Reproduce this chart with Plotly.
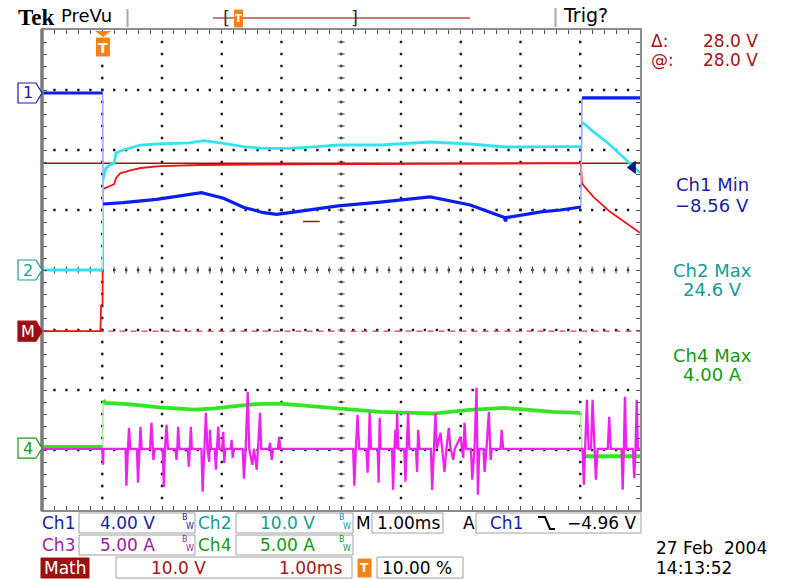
import plotly.graph_objects as go

# ---------------- acquisition settings ----------------
T_START, T_END = -1.0, 9.0          # ms, 1.00 ms/div, trigger at 10 %
N_DIV_Y = 4                         # +-4 divisions vertically

CH1_SCALE, CH1_POS = 4.0, 2.95      # V/div, ground position in div
CH2_SCALE, CH2_POS = 10.0, 0.0
MATH_SCALE, MATH_POS = 10.0, -1.02
CH3_SCALE, CH3_POS = 5.0, -2.98
CH4_SCALE, CH4_POS = 5.0, -2.97

TRIG_LEVEL = -4.96                  # V on Ch1
CURSOR_MATH = 28.0                  # V on Math
CH1_MIN = -8.56
CH2_MAX = 24.6
CH4_MAX = 4.00

# ---------------- waveforms ----------------
ch1_t = [-1.0, 0.005, 0.015, 0.35, 0.91, 1.47, 1.66, 2.03, 2.36, 2.70, 2.92, 3.14,
         3.59, 3.95, 4.65, 5.49, 6.16, 6.73, 6.75, 6.77, 7.34, 7.67, 8.01, 8.03, 8.50, 9.0]
ch1_v = [0.0, 0.0, -7.40, -7.31, -7.09, -6.80, -6.65, -7.02, -7.62, -7.98, -8.09, -7.98,
         -7.75, -7.53, -7.27, -6.93, -7.47, -8.30, -8.56, -8.30, -7.93, -7.80, -7.60, -0.33, -0.33, -0.33]
ch1_edges = [1, 22]                 # sample index where a fast edge starts

ch2_t = [-1.0, 0.005, 0.015, 0.06, 0.13, 0.20, 0.23, 0.35, 0.64, 0.91, 1.47, 1.69, 2.03,
         2.36, 2.70, 3.14, 3.59, 3.95, 4.65, 5.49, 6.16, 6.75, 7.67, 8.02, 8.04, 8.22, 8.50,
         8.78, 9.0]
ch2_v = [0.0, 0.0, 15.0, 17.0, 17.5, 17.8, 19.5, 20.0, 20.83, 21.0, 21.2, 21.55, 21.1,
         20.55, 20.28, 20.28, 20.55, 20.83, 20.83, 21.33, 21.0, 20.5, 20.55, 20.55, 24.6, 23.05,
         20.83, 18.33, 16.2]
ch2_edges = [1, 23]

math_t = [-1.0, -0.03, -0.02, 0.005, 0.015, 0.04, 0.13, 0.20, 0.23, 0.30, 0.47, 0.64, 0.97,
          1.64, 3.31, 4.99, 6.67, 8.01, 8.03, 8.22, 8.50, 8.78, 9.0]
math_v = [0.0, 0.0, 4.3, 4.5, 23.8, 23.8, 24.2, 24.5, 25.5, 26.3, 26.8, 27.2, 27.5,
          27.7, 27.8, 27.9, 28.0, 28.0, 24.6, 22.4, 19.9, 17.95, 16.4]

ch4_t = [-1.0, 0.005, 0.015, 0.05, 0.43, 1.0, 1.55, 1.89, 2.22, 2.56, 2.98, 3.53, 4.09,
         4.65, 5.20, 5.54, 6.10, 6.32, 6.71, 7.10, 7.54, 8.0, 8.035, 9.0]
ch4_a = [0.1, 0.1, 4.00, 3.78, 3.67, 3.39, 3.22, 3.31, 3.5, 3.67, 3.72, 3.5, 3.22,
         3.03, 2.94, 2.89, 3.17, 3.22, 3.36, 3.22, 3.03, 2.94, -0.67, -0.67]
ch4_edges = [1, 21]

ch3_t = [-1.0, 0.0, 0.012, 0.02,
         0.39, 0.404, 0.43, 0.448, 0.47,
         0.58, 0.599, 0.62, 0.639, 0.66,
         0.80, 0.824, 0.84, 0.857, 0.88,
         1.01, 1.030, 1.05, 1.076, 1.10,
         1.225, 1.243, 1.256, 1.270, 1.29,
         1.43, 1.450, 1.465, 1.483, 1.50,
         1.66, 1.680, 1.71, 1.735, 1.76, 1.790, 1.802, 1.82, 1.88, 1.903, 1.92, 1.941, 1.96,
         2.005, 2.025, 2.042, 2.06, 2.15, 2.166, 2.183, 2.20,
         2.35, 2.372, 2.40, 2.435, 2.46, 2.512, 2.54, 2.586, 2.61, 2.641, 2.66,
         2.79, 2.809, 2.837, 2.86, 2.94, 2.960, 2.98,
         4.20, 4.218, 4.245, 4.273, 4.30,
         4.42, 4.441, 4.46, 4.475, 4.50,
         4.61, 4.626, 4.643, 4.66,
         4.85, 4.867, 4.89, 4.906, 4.92, 4.935, 4.955,
         5.055, 5.074, 5.10, 5.119, 5.14,
         5.25, 5.270, 5.287, 5.31,
         5.50, 5.522, 5.55, 5.577, 5.60, 5.661, 5.69, 5.728, 5.76, 5.800, 5.83, 5.874, 5.90,
         5.997, 6.02, 6.042, 6.064, 6.09,
         6.17, 6.193, 6.23, 6.265, 6.287, 6.31, 6.38, 6.399, 6.43, 6.471, 6.500, 6.52,
         6.665, 6.685, 6.71,
         8.04, 8.060, 8.085, 8.111, 8.14, 8.18, 8.206, 8.235, 8.262, 8.29,
         8.46, 8.485, 8.51, 8.69, 8.710, 8.73, 8.748, 8.77, 8.88, 8.904, 8.925, 8.945, 8.965, 9.0]
ch3_a = [0.0, 0.0, -1.33, 0.0,
         0.0, -3.08, 0.0, 1.75, 0.0,
         0.0, -2.83, 0.0, 1.83, 0.0,
         0.0, 2.17, 0.0, -0.92, 0.0,
         0.0, -3.17, 0.0, 2.0, 0.0,
         0.0, -0.92, 0.0, 1.83, 0.0,
         0.0, -1.5, 0.0, 1.83, 0.0,
         0.0, -3.58, 0.0, 3.0, 0.0, -1.08, 1.58, 0.0, 0.0, -1.75, 0.0, 1.83, 0.0,
         0.0, 1.42, -1.17, 0.0, 0.0, 0.75, -0.75, 0.0,
         0.0, -2.5, 0.0, 4.75, 0.0, -1.33, 0.0, -1.75, 0.0, 3.0, 0.0,
         0.0, 0.5, -0.92, 0.0, 0.0, 1.0, 0.0,
         0.0, -3.08, 0.0, 2.83, 0.0,
         0.0, -2.0, 0.0, 3.0, 0.0,
         0.0, -2.83, 2.58, 0.0,
         0.0, -3.42, 0.0, 1.58, 0.0, 3.0, 0.0,
         0.0, -2.75, 0.0, 3.0, 0.0,
         0.0, -1.92, 1.58, 0.0,
         0.0, -3.42, 0.0, 3.0, 0.0, 1.33, 0.0, -1.92, 0.0, 1.75, 0.0, -0.92, 0.0,
         1.0, 0.0, -0.75, 2.17, 0.0,
         0.0, -2.58, 0.0, 5.08, -3.83, 0.0, 0.0, -1.92, 0.0, 3.08, -0.92, 0.0,
         0.0, 1.58, 0.0,
         0.0, -3.0, 0.0, 4.08, 0.0, 0.0, 4.08, 0.0, -2.58, 0.0,
         0.0, 2.67, 0.0, 0.0, -3.42, 0.0, 4.33, 0.0, 0.0, -2.42, 0.0, 4.08, 0.0, 0.0]

# ---------------- colours / fonts ----------------
C_CH1, C_CH2, C_MATH, C_CH3, C_CH4 = "#0a1ef2", "#33e3f0", "#f01414", "#ee22ee", "#33e622"
E_CH1, E_CH2, E_CH4 = "#a4a8ff", "#a8f2f8", "#a8f0a0"          # faint fast edges
T_CH1, T_CH2, T_MATH, T_CH3, T_CH4 = "#1c1ca0", "#149a9a", "#a31515", "#9c1c9c", "#159915"
ORANGE = "#f58216"
FONT = "DejaVu Sans"
W, H = 791, 579


def fx(x):
    return x / W


def fy(y):
    return 1 - y / H


def chan_range(scale, pos):
    return [(-N_DIV_Y - pos) * scale, (N_DIV_Y - pos) * scale]


def split_edges(t, v, edges):
    """Break a record at its fast edges; return (body_t, body_v, edge_t, edge_v)."""
    bt, bv, et, ev = [], [], [], []
    for i, (ti, vi) in enumerate(zip(t, v)):
        bt.append(ti)
        bv.append(vi)
        if i in edges:
            bt.append(None)
            bv.append(None)
            et += [t[i], t[i + 1], None]
            ev += [v[i], v[i + 1], None]
    return bt, bv, et, ev


fig = go.Figure()

# ---------------- graticule ----------------
minor = [round(-4 + 0.2 * k, 3) for k in range(1, 40)]
minor_t = [round(T_START + 0.2 * k, 3) for k in range(1, 50)]
gx, gy = [], []
for tv in [0, 1, 2, 3, 4, 5, 6, 7, 8]:
    gx += [tv] * len(minor)
    gy += minor
for dv in [-3, -2, -1, 0, 1, 2, 3]:
    gx += minor_t
    gy += [dv] * len(minor_t)
fig.add_trace(go.Scatter(x=gx, y=gy, mode="markers", hoverinfo="skip",
                         marker=dict(symbol="square", size=2.4, color="#1a1a1a")))
# centre cross with small ticks
fig.add_trace(go.Scatter(x=[4] * len(minor), y=minor, mode="markers", hoverinfo="skip",
                         marker=dict(symbol="line-ew", size=5, line=dict(width=1, color="#555555"))))
fig.add_trace(go.Scatter(x=minor_t, y=[0] * len(minor_t), mode="markers", hoverinfo="skip",
                         marker=dict(symbol="line-ns", size=5, line=dict(width=1, color="#555555"))))

# ---------------- reference lines ----------------
fig.add_trace(go.Scatter(x=[T_START, T_END], y=[0, 0], yaxis="y2", mode="lines", hoverinfo="skip",
                         line=dict(color="#d04040", width=1.2, dash="6px,5px")))
fig.add_trace(go.Scatter(x=[T_START, T_END], y=[CURSOR_MATH, CURSOR_MATH], yaxis="y2", mode="lines",
                         hoverinfo="skip", line=dict(color="#a01010", width=1.4)))

# ---------------- waveforms (stacked in display order) ----------------
fig.add_trace(go.Scatter(x=math_t, y=math_v, yaxis="y2", mode="lines", name="Math",
                         line=dict(color=C_MATH, width=1.8)))


def add_channel(t, v, edges, axis, color, edge_color, width):
    bt, bv, et, ev = split_edges(t, v, edges)
    fig.add_trace(go.Scatter(x=et, y=ev, yaxis=axis, mode="lines", hoverinfo="skip",
                             line=dict(color=edge_color, width=1.6)))
    fig.add_trace(go.Scatter(x=bt, y=bv, yaxis=axis, mode="lines",
                             line=dict(color=color, width=width)))


add_channel(ch4_t, ch4_a, ch4_edges, "y3", C_CH4, E_CH4, 3.8)
fig.add_trace(go.Scatter(x=ch3_t, y=ch3_a, yaxis="y4", mode="lines", name="Ch3",
                         line=dict(color=C_CH3, width=2.3)))
add_channel(ch2_t, ch2_v, ch2_edges, "y5", C_CH2, E_CH2, 2.8)
add_channel(ch1_t, ch1_v, ch1_edges, "y6", C_CH1, E_CH1, 3.2)
# Ch1 minimum marker and trigger level arrow
fig.add_trace(go.Scatter(x=[3.36, 3.64], y=[CH1_MIN, CH1_MIN], yaxis="y6", mode="lines",
                         hoverinfo="skip", line=dict(color="#b01010", width=1.5)))
fig.add_trace(go.Scatter(x=[8.88], y=[TRIG_LEVEL], yaxis="y6", mode="markers", hoverinfo="skip",
                         marker=dict(symbol="triangle-left", size=12, color="#10107a")))

axis_common = dict(showgrid=False, zeroline=False, showline=True, linecolor="#8c8c8c",
                   linewidth=2, mirror="ticks", ticks="inside", ticklen=4, tickwidth=1,
                   tickcolor="#555555", showticklabels=False, fixedrange=True)
hidden = dict(overlaying="y", visible=False, fixedrange=True)
fig.update_layout(
    width=W, height=H, margin=dict(l=0, r=0, t=0, b=0),
    paper_bgcolor="white", plot_bgcolor="white", showlegend=False,
    xaxis=dict(domain=[fx(42.5), fx(640)], range=[T_START, T_END], tick0=T_START, dtick=0.2,
               **axis_common),
    yaxis=dict(domain=[fy(510), fy(30)], range=[-N_DIV_Y, N_DIV_Y], tick0=-4, dtick=0.2,
               **axis_common),
    yaxis2=dict(range=chan_range(MATH_SCALE, MATH_POS), **hidden),
    yaxis3=dict(range=chan_range(CH4_SCALE, CH4_POS), **hidden),
    yaxis4=dict(range=chan_range(CH3_SCALE, CH3_POS), **hidden),
    yaxis5=dict(range=chan_range(CH2_SCALE, CH2_POS), **hidden),
    yaxis6=dict(range=chan_range(CH1_SCALE, CH1_POS), **hidden),
)

shapes, annots = [], []


def text(x, y, s, color="black", size=17, anchor="left", family=FONT, **kw):
    annots.append(dict(x=fx(x), y=fy(y), xref="paper", yref="paper",
                       text=s, showarrow=False, xanchor=anchor, yanchor="middle",
                       font=dict(family=family, size=size, color=color), **kw))


def rect(x0, y0, x1, y1, line="#a0a0a0", fill=None, width=1):
    shapes.append(dict(type="rect", xref="paper", yref="paper", x0=fx(x0), x1=fx(x1),
                       y0=fy(y1), y1=fy(y0), line=dict(color=line, width=width),
                       fillcolor=fill or "rgba(0,0,0,0)"))


def seg(x0, y0, x1, y1, color, width=1.5):
    shapes.append(dict(type="line", xref="paper", yref="paper", x0=fx(x0), x1=fx(x1),
                       y0=fy(y0), y1=fy(y1), line=dict(color=color, width=width)))


# thicker left edge of the screen
seg(42, 29, 42, 511, "#7a7a7a", 3.5)


# channel ground markers at the left edge
def chan_marker(pos, label, color, filled=False):
    h = 10 / 60.0
    x0, x1, x2 = fx(18), fx(36), fx(42)
    path = (f"M {x0},{pos + h} L {x1},{pos + h} L {x2},{pos} L {x1},{pos - h} "
            f"L {x0},{pos - h} Z")
    shapes.append(dict(type="path", xref="paper", yref="y", path=path,
                       line=dict(color=color, width=1.2),
                       fillcolor=color if filled else "white"))
    annots.append(dict(x=fx(27.5), y=pos, xref="paper", yref="y", text=label, showarrow=False,
                       xanchor="center", yanchor="middle",
                       font=dict(family=FONT, size=16, color="white" if filled else color)))


chan_marker(CH1_POS, "1", T_CH1)
chan_marker(CH2_POS, "2", T_CH2)
chan_marker(MATH_POS, "M", "#9a1010", filled=True)
chan_marker(CH4_POS, "4", T_CH4)

# trigger position marker on top of the screen
shapes.append(dict(type="path", xref="paper", yref="paper",
                   path=f"M {fx(95)},{fy(31)} L {fx(111)},{fy(31)} L {fx(103)},{fy(37)} Z",
                   line=dict(width=0), fillcolor=ORANGE))
rect(96.5, 38, 109.5, 56, line=ORANGE, fill=ORANGE)
text(103, 47.5, "<b>T</b>", "white", 14, "center")

# ---------------- header ----------------
text(16, 17, "<b>Tek</b>", "black", 23, family="Liberation Serif")
text(59, 16, "PreVu", "black", 18)
seg(127.5, 9, 127.5, 27, "#a8a8a8", 2)
seg(213, 18, 470, 18, "#c04848", 1.5)
text(226, 17, "[", "#333333", 18, "center")
text(354, 17, "]", "#333333", 18, "center")
rect(234.5, 10, 242.5, 27, line=ORANGE, fill=ORANGE)
text(238.5, 19, "<b>T</b>", "white", 10, "center")
seg(555.5, 8, 555.5, 27, "#a8a8a8", 2)
text(561, 15, "Trig?", "black", 19)

# ---------------- side readouts ----------------
text(649, 41, "Δ:", T_MATH, 17)
text(760, 41, f"{CURSOR_MATH:.1f} V", T_MATH, 17, "right")
text(649, 60, "@:", T_MATH, 17)
text(760, 60, f"{CURSOR_MATH:.1f} V", T_MATH, 17, "right")
text(712, 185, "Ch1 Min", T_CH1, 18, "center")
text(712, 205, f"\u2212{abs(CH1_MIN):.2f} V", T_CH1, 18, "center")
text(712, 270, "Ch2 Max", T_CH2, 18, "center")
text(712, 289, f"{CH2_MAX:.1f} V", T_CH2, 18, "center")
text(712, 355, "Ch4 Max", T_CH4, 18, "center")
text(712, 374, f"{CH4_MAX:.2f} A", T_CH4, 18, "center")


# ---------------- bottom status bar ----------------
def bw(x, y, color):
    text(x - 2, y - 4.5, "B", color, 8, "center", borderpad=0)
    text(x + 3, y + 4.5, "W", color, 8, "center", borderpad=0)


text(40, 523, "Ch1", T_CH1)
rect(79, 513, 195, 533)
text(127, 523, "4.00 V", T_CH1, 17, "center")
bw(187, 522, T_CH1)
text(196, 523, "Ch2", T_CH2)
rect(236, 513, 353, 533)
text(287, 523, "10.0 V", T_CH2, 17, "center")
bw(344, 522, T_CH2)
text(354, 523, "M", "black")
rect(372, 513, 443, 533)
text(442, 523, "1.00ms", "black", 17, "right")
text(461, 523, "A", "black")
rect(476, 513, 641, 533)
text(488, 523, "Ch1", T_CH1)
shapes.append(dict(type="path", xref="paper", yref="paper",
                   path=(f"M {fx(538)},{fy(517)} L {fx(545)},{fy(517)} L {fx(550)},{fy(529)} "
                         f"L {fx(555)},{fy(529)}"),
                   line=dict(color="black", width=2)))
text(639, 523, f"\u2212{abs(TRIG_LEVEL):.2f} V", "black", 17, "right")

text(40, 545, "Ch3", T_CH3)
rect(79, 535, 195, 555)
text(127, 545, "5.00 A", T_CH3, 17, "center")
bw(187, 544, T_CH3)
text(196, 545, "Ch4", T_CH4)
rect(236, 535, 353, 555)
text(287, 545, "5.00 A", T_CH4, 17, "center")
bw(344, 544, T_CH4)

rect(41, 558, 89, 578, line="#9a1010", fill="#9a1010")
text(65, 568, "Math", "white", 17, "center")
rect(116, 557, 352, 578)
text(178, 568, "10.0 V", T_MATH, 17, "center")
text(344, 568, "1.00ms", T_MATH, 17, "right")
rect(358, 559, 371, 577, line=ORANGE, fill=ORANGE)
text(364.5, 568, "<b>T</b>", "white", 12, "center")
rect(377, 557, 463, 578)
text(380, 568, "10.00 %", "black")
text(654, 548, "27 Feb\u00a0\u00a02004", "black")
text(654, 568, "14:13:52", "black")

fig.update_layout(shapes=shapes, annotations=annots)
fig.write_html("out.html")
